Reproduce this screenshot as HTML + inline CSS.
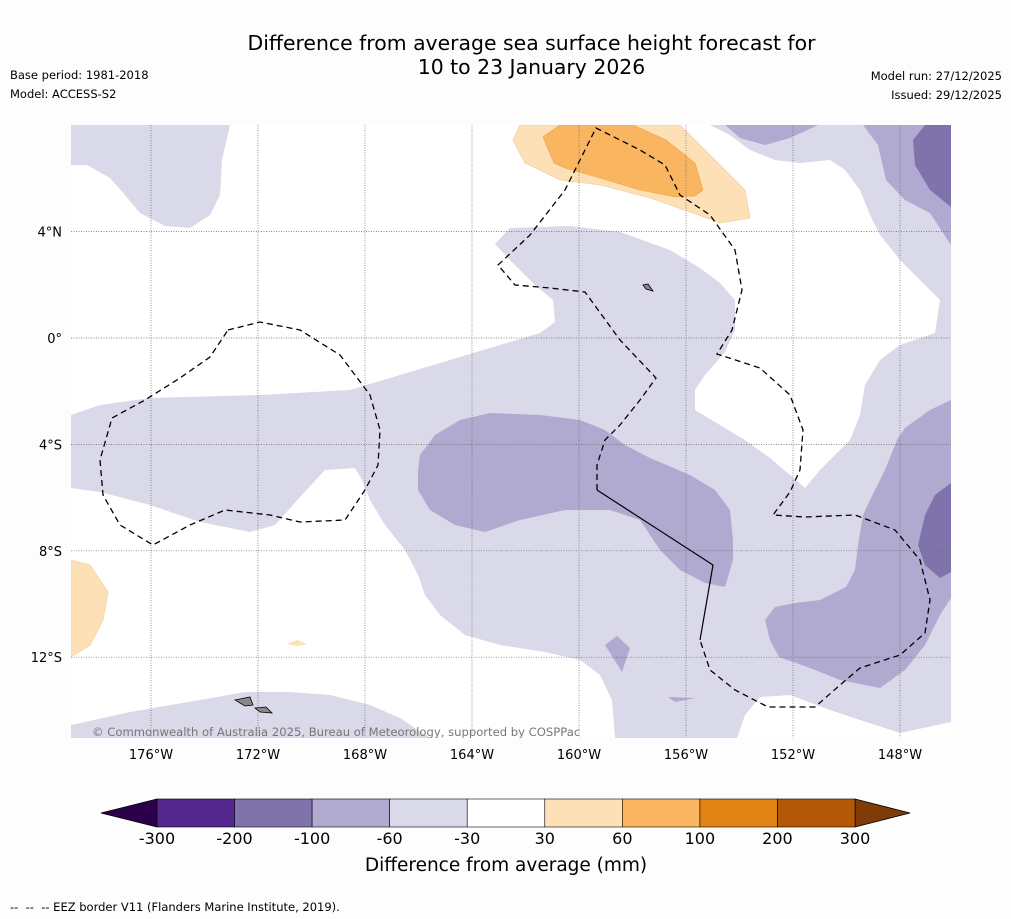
<!DOCTYPE html>
<html><head><meta charset="utf-8">
<style>
body{margin:0;background:#fdfdfd;font-family:"DejaVu Sans","Liberation Sans",sans-serif;}
#wrap{position:relative;width:1011px;height:919px;overflow:hidden;}
.t{position:absolute;white-space:nowrap;color:#000;}
</style></head><body>
<div id="wrap">
<div class="t" style="left:0;width:1063px;text-align:center;top:31px;font-size:20.4px;line-height:24px;">Difference from average sea surface height forecast for<br>10 to 23 January 2026</div>
<div class="t" style="left:10px;top:68px;font-size:11.5px;">Base period: 1981-2018</div>
<div class="t" style="left:10px;top:87px;font-size:11.5px;">Model: ACCESS-S2</div>
<div class="t" style="right:9px;top:69px;font-size:11.5px;">Model run: 27/12/2025</div>
<div class="t" style="right:9px;top:88px;font-size:11.5px;">Issued: 29/12/2025</div>
<svg id="svg" width="1011" height="919" style="position:absolute;left:0;top:0">
<defs><clipPath id="mc"><rect x="71" y="125" width="880" height="613"/></clipPath></defs>
<g clip-path="url(#mc)">
<rect x="71" y="125" width="880" height="613" fill="#ffffff"/>
<g fill="#d9d9ea">
<path d="M71,125 L230,125 222,160 220,195 210,215 190,228 165,226 140,213 125,195 110,178 87,165 71,165Z"/>
<path d="M71,415 L100,405 150,398 260,395 350,390 400,375 450,360 500,345 540,333 555,322 553,300 535,285 512,262 495,244 510,228 570,226 620,232 670,250 700,268 720,283 735,300 735,330 725,352 705,375 695,390 695,410 720,425 745,440 770,458 790,475 805,488 820,470 835,455 850,440 860,415 865,385 880,360 900,345 935,333 940,300 925,285 900,260 880,235 870,215 860,190 845,170 830,160 800,163 775,160 750,150 730,135 710,125 951,125 951,722 900,733 860,720 830,710 790,695 760,697 745,715 737,738 615,738 612,700 600,675 580,660 545,652 500,645 465,635 440,615 425,595 418,575 405,550 385,525 370,500 362,480 355,468 325,470 300,497 275,525 250,532 200,522 150,505 100,492 71,488Z"/>
<path d="M71,725 L130,712 200,700 245,692 290,692 330,695 370,705 400,718 430,738 71,738Z"/>
</g>
<g fill="#b0a9d0">
<path d="M420,455 L435,435 460,420 490,413 540,415 580,420 605,430 625,445 650,458 690,475 715,490 730,510 733,540 733,560 725,587 705,583 680,570 660,550 640,520 610,510 565,510 520,520 485,532 455,525 430,510 418,490 418,470Z"/>
<path d="M605,645 L617,636 630,648 622,672Z"/>
<path d="M668,697 L695,698 675,702Z"/>
<path d="M951,400 L930,410 905,428 897,440 885,470 870,500 863,515 858,545 855,570 846,587 820,600 795,603 775,607 765,620 770,640 779,657 810,668 840,680 880,688 905,670 925,645 940,615 951,598Z"/>
<path d="M725,125 L740,138 765,145 790,138 818,125Z"/>
<path d="M863,125 L878,145 886,180 905,200 930,213 951,245 951,125Z"/>
</g>
<g fill="#8073ac">
<path d="M951,483 L935,495 925,515 918,545 925,565 940,578 951,572Z"/>
<path d="M951,125 L925,125 913,140 915,165 930,190 951,207Z"/>
</g>
<g>
<path fill="#fde0b6" stroke="#f3c98e" stroke-width="0.6" d="M520,125 L680,125 715,160 745,190 750,218 720,223 690,212 650,198 600,185 560,180 525,163 513,140Z"/>
<path fill="#f9b560" stroke="#eea04a" stroke-width="0.6" d="M543,137 L560,125 633,125 666,140 695,163 703,190 695,196 675,197 640,190 600,178 565,168 554,163Z"/>
<path fill="#fde0b6" stroke="#f3c98e" stroke-width="0.6" d="M71,560 L90,565 108,592 103,620 90,645 71,657Z"/>
<path fill="#fde0b6" d="M287,644 L297,640 307,644 297,646Z"/>
</g>
<g id="grid" stroke="#666" stroke-width="0.7" stroke-dasharray="1,1.5"></g>
<g fill="none" stroke="#000" stroke-width="1.3" stroke-dasharray="6,4">
<path d="M228,330 L260,322 300,330 340,355 370,395 380,430 378,465 365,490 345,520 300,522 270,515 225,510 190,525 153,545 120,525 103,495 100,460 112,418 145,400 180,378 210,357Z"/>
<path d="M597,490 L597,465 605,440 620,425 640,400 656,378 620,340 585,292 550,288 515,285 498,265 530,235 565,190 596,128 610,135 640,150 665,165 680,195 710,215 735,250 742,290 732,330 717,354 760,368 790,395 803,430 800,470 790,492 773,515 805,517 855,515 895,530 920,560 930,600 925,633 900,655 860,668 840,685 815,707 768,707 735,690 710,670 700,640"/>
</g>
<path d="M597,490 L713,565 700,640" fill="none" stroke="#000" stroke-width="1.2"/>
<g fill="#888" stroke="#000" stroke-width="0.8">
<path d="M235,700 L250,697 253,705 245,706Z"/>
<path d="M255,708 L266,707 272,713 260,712Z"/>
<path d="M643,285 L648,284 653,291 646,289Z"/>
</g>
<text x="92" y="736" font-size="11.6" fill="#777" font-family="DejaVu Sans, sans-serif">© Commonwealth of Australia 2025, Bureau of Meteorology, supported by COSPPac</text>
</g>
<g id="axes" font-family="DejaVu Sans, sans-serif" font-size="13"></g>
<g id="cbar"></g>
</svg>
<div class="t" style="left:10px;top:900px;font-size:11.5px;">--&nbsp; --&nbsp; -- EEZ border V11 (Flanders Marine Institute, 2019).</div>
</div>
<script>
const lonTicks=[-176,-172,-168,-164,-160,-156,-152,-148];
const lonLabels=["176°W","172°W","168°W","164°W","160°W","156°W","152°W","148°W"];
const latTicks=[4,0,-4,-8,-12];
const latLabels=["4°N","0°","4°S","8°S","12°S"];
const levels=[-300,-200,-100,-60,-30,30,60,100,200,300];
const levelColors=["#54278f","#8073ac","#b0a9d0","#d9d9ea","#ffffff","#fde0b6","#f9b560","#e08214","#b35806"];
const extendColors=["#2d004b","#7f3b08"];
const NS="http://www.w3.org/2000/svg";
function xLon(l){return 151+(l+176)*26.75;}
function yLat(l){return 338-l*26.6;}
function mk(tag,attrs,parent){const e=document.createElementNS(NS,tag);for(const k in attrs)e.setAttribute(k,attrs[k]);parent.appendChild(e);return e;}
const grid=document.getElementById('grid'),axes=document.getElementById('axes'),cb=document.getElementById('cbar');
lonTicks.forEach((l,i)=>{
  const x=xLon(l);
  const g=mk('line',{x1:x,x2:x,y1:125,y2:738},grid);
  
  
  const t=mk('text',{x:x,y:759,'text-anchor':'middle'},axes);
  t.textContent=lonLabels[i];
  
  
});
latTicks.forEach((l,i)=>{
  const y=yLat(l);
  const g=mk('line',{x1:71,x2:951,y1:y,y2:y},grid);
  
  
  const t=mk('text',{x:62,y:y+5,'text-anchor':'end'},axes);
  t.textContent=latLabels[i];
  
  
});
const cbX0=157,cbX1=855,cbY=799,cbH=28;
const nb=levels.length-1,bw=(cbX1-cbX0)/nb;
function xLev(i){return cbX0+i*bw;}
const lt=mk('path',{d:`M${cbX0},${cbY} L101,${cbY+cbH/2} L${cbX0},${cbY+cbH}Z`,fill:extendColors[0],stroke:'#000','stroke-width':0.8},cb);


const rt=mk('path',{d:`M${cbX1},${cbY} L910,${cbY+cbH/2} L${cbX1},${cbY+cbH}Z`,fill:extendColors[1],stroke:'#000','stroke-width':0.8},cb);


levelColors.forEach((c,i)=>{
  const r=mk('rect',{x:xLev(i),y:cbY,width:bw,height:cbH,fill:c,stroke:'#000','stroke-width':0.6},cb);
  
  
});
levels.forEach((v,i)=>{
  const t=mk('text',{x:xLev(i),y:844,'text-anchor':'middle','font-size':16,'font-family':'DejaVu Sans, sans-serif'},cb);
  t.textContent=String(v);
  
  
});
const ct=mk('text',{x:506,y:871,'text-anchor':'middle','font-size':18.5,'font-family':'DejaVu Sans, sans-serif'},cb);
ct.textContent='Difference from average (mm)';


</script>
</body></html>
